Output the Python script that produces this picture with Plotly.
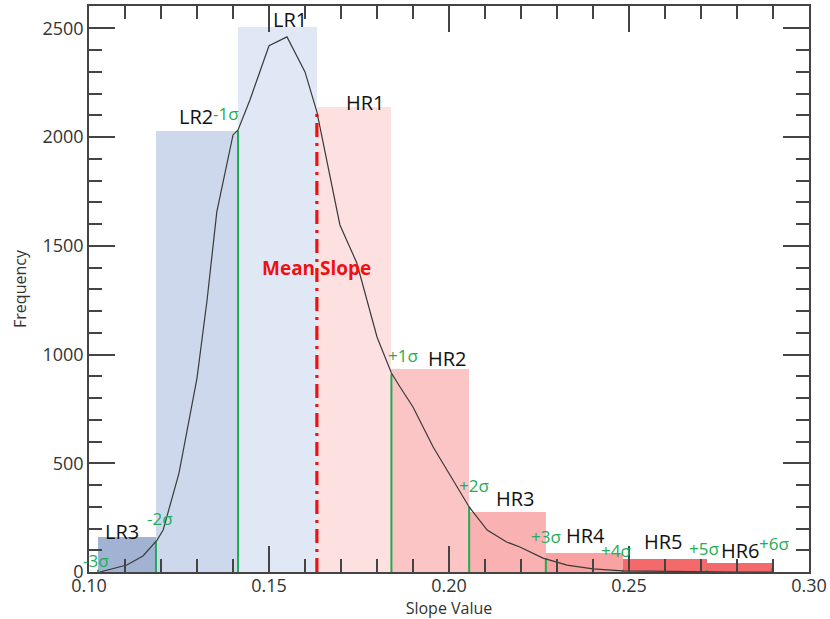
import plotly.graph_objects as go

# ---- data ----
bin_names = ["LR3", "LR2", "LR1", "HR1", "HR2", "HR3", "HR4", "HR5", "HR6"]
bin_left = [0.1025, 0.1186, 0.1414, 0.1633, 0.1839, 0.2056, 0.2269, 0.2483, 0.2717]
bin_right = [0.1186, 0.1414, 0.1633, 0.1839, 0.2056, 0.2269, 0.2483, 0.2717, 0.2897]
bin_freq = [160, 2028, 2507, 2139, 934, 276, 87, 60, 41]
bin_colors = ["#a2b2d2", "#cdd8ec", "#e1e8f5", "#fde1e1", "#fcc5c5", "#f9b1b1",
              "#f8a2a2", "#f46a6a", "#f46a6a"]

curve_x = [0.1030, 0.1105, 0.1150, 0.1189, 0.1206, 0.1250, 0.1300, 0.1328, 0.1355,
           0.1400, 0.1414, 0.1447, 0.1500, 0.1550, 0.1600, 0.1633, 0.1697, 0.1744,
           0.1800, 0.1840, 0.1864, 0.1900, 0.1956, 0.2022, 0.2056, 0.2106, 0.2160,
           0.2197, 0.2261, 0.2328, 0.2400, 0.2483, 0.2600, 0.2700, 0.2800, 0.2900]
curve_y = [0, 32, 74, 147, 193, 455, 892, 1251, 1656,
           2010, 2033, 2171, 2420, 2461, 2300, 2116, 1596, 1421,
           1081, 915, 851, 759, 575, 391, 299, 193, 138,
           115, 64, 32, 14, 5, 2, 1, 0, 0]

sigma_labels = ["-3σ", "-2σ", "-1σ", "+1σ", "+2σ", "+3σ", "+4σ", "+5σ", "+6σ"]
sigma_x = [0.1025, 0.1186, 0.1414, 0.1840, 0.2056, 0.2269, 0.2483, 0.2717, 0.2897]
sigma_top = [10, 140, 2030, 910, 300, 62, 10, 10, 18]

mean_slope = 0.1633
mean_top = 2116

# ---- figure ----
fig = go.Figure()

centers = [(a + b) / 2 for a, b in zip(bin_left, bin_right)]
widths = [b - a for a, b in zip(bin_left, bin_right)]
fig.add_trace(go.Bar(x=centers, y=bin_freq, width=widths, marker=dict(color=bin_colors, line=dict(width=0)),
                     showlegend=False, hoverinfo="skip"))

# sigma lines
for sx, st in zip(sigma_x, sigma_top):
    fig.add_trace(go.Scatter(x=[sx, sx], y=[0, st], mode="lines",
                             line=dict(color="#1faa52", width=2), showlegend=False, hoverinfo="skip"))

# mean line
fig.add_trace(go.Scatter(x=[mean_slope, mean_slope], y=[0, mean_top], mode="lines",
                         line=dict(color="#ee1111", width=3.2, dash="14px,6px,3px,6px"),
                         showlegend=False, hoverinfo="skip"))

# curve
fig.add_trace(go.Scatter(x=curve_x, y=curve_y, mode="lines",
                         line=dict(color="#3a3a3a", width=1.2), showlegend=False, hoverinfo="skip"))

annos = []
name_pos = {"LR3": (0.1092, 184), "LR2": (0.1297, 2093), "LR1": (0.1558, 2539),
            "HR1": (0.1769, 2157), "HR2": (0.1997, 984), "HR3": (0.2186, 336),
            "HR4": (0.2378, 166), "HR5": (0.2597, 138), "HR6": (0.2811, 101)}
for n in bin_names:
    x, y = name_pos[n]
    annos.append(dict(x=x, y=y, text=n, showarrow=False,
                      font=dict(family="Open Sans", size=20, color="#111")))
sig_pos = [(0.1019, 55), (0.1197, 244), (0.1380, 2107), (0.1872, 994), (0.2069, 396),
           (0.2269, 161), (0.2463, 97), (0.2708, 106), (0.2903, 133)]
for lab, (x, y) in zip(sigma_labels, sig_pos):
    annos.append(dict(x=x, y=y, text=lab, showarrow=False,
                      font=dict(family="Open Sans", size=17, color="#22ad55")))
annos.append(dict(x=mean_slope, y=1398, text="<b>Mean Slope</b>", showarrow=False,
                  font=dict(family="Open Sans", size=19, color="#ee1111")))

fig.update_layout(
    width=830, height=619,
    margin=dict(l=89, r=21, t=6, b=47),
    plot_bgcolor="white", paper_bgcolor="white",
    bargap=0, annotations=annos,
    font=dict(family="Open Sans", color="#333"),
)
fig.update_xaxes(range=[0.10, 0.30], tickvals=[0.10, 0.15, 0.20, 0.25, 0.30],
                 ticktext=["0.10", "0.15", "0.20", "0.25", "0.30"],
                 ticks="inside", ticklen=26, tickwidth=1.5, tickcolor="#444",
                 minor=dict(dtick=0.01, ticks="inside", ticklen=13, tickwidth=1.5, tickcolor="#444"),
                 showline=True, linecolor="#444", linewidth=1.5, mirror="ticks",
                 showgrid=False, zeroline=False, automargin=False, ticklabelstandoff=-3,
                 tickfont=dict(size=18, color="#333"),
                 title=dict(text="Slope Value", font=dict(size=16, color="#333"), standoff=2))
fig.update_yaxes(range=[0, 2603], tickvals=[0, 500, 1000, 1500, 2000, 2500],
                 ticks="inside", ticklen=26, tickwidth=1.5, tickcolor="#444",
                 minor=dict(dtick=100, ticks="inside", ticklen=13, tickwidth=1.5, tickcolor="#444"),
                 showline=True, linecolor="#444", linewidth=1.5, mirror="ticks",
                 showgrid=False, zeroline=False, automargin=False,
                 tickfont=dict(size=18, color="#333"),
                 title=dict(text="Frequency", font=dict(size=16, color="#333"), standoff=12))

fig.write_html("out.html")
